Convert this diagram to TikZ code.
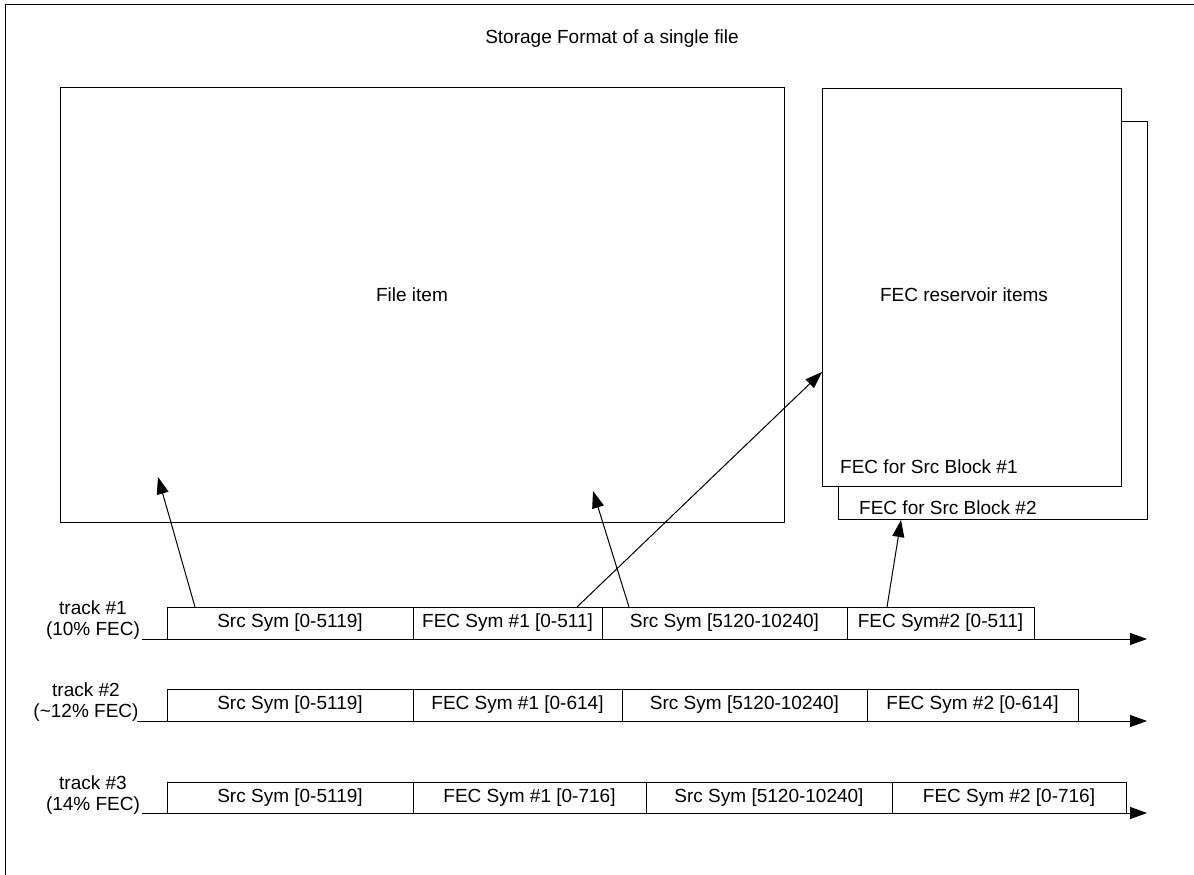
\documentclass[tikz,border=0pt]{standalone}
\usepackage{fontspec}
\setmainfont{Liberation Sans}
\usetikzlibrary{arrows.meta}
\begin{document}
\begin{tikzpicture}[x=1pt,y=-1pt,
  txt/.style={font=\fontsize{19}{20.5}\selectfont, inner sep=0pt},
  frame/.style={draw, line width=1pt},
  cell/.style={draw, line width=1pt, minimum height=32pt, inner sep=0pt, outer sep=0pt, anchor=north west, font=\fontsize{19}{20.5}\selectfont},
  lab/.style={font=\fontsize{19}{20.5}\selectfont, align=center, inner sep=0pt},
  ptr/.style={line width=1pt, -{Triangle[length=17pt,width=12pt]}},
  axis/.style={line width=1pt, -{Triangle[length=17pt,width=12pt]}}
]
\useasboundingbox (0,0) rectangle (1194,875);
% outer frame (only top and left edges visible)
\draw[line width=1pt] (5,875) -- (5,5) -- (1194,5);
\node[txt] (title) at (612,39) {Storage Format of a single file};

% file item
\node[frame, minimum width=724pt, minimum height=435pt, anchor=north west, inner sep=0pt] (file) at (60,87) {};
\node[txt] (filelab) at (412,295) {File item};

% FEC reservoir boxes
\node[frame, minimum width=309pt, minimum height=398pt, anchor=north west, inner sep=0pt] (res2) at (838,121) {};
\node[frame, fill=white, minimum width=299pt, minimum height=398pt, anchor=north west, inner sep=0pt] (res1) at (822,88) {};
\node[txt] (reslab) at (964,295) {FEC reservoir items};
\node[txt, anchor=west] (blk1) at (840,467) {FEC for Src Block \#1};
\node[txt, anchor=west] (blk2) at (859,508) {FEC for Src Block \#2};

% track 1
\node[lab] (l1) at (93,620) {track \#1\\(10\% FEC)};
\coordinate (a1s) at (142,639);
\coordinate (a1e) at (1147,639);
\draw[axis] (a1s) -- (a1e);
\node[cell, minimum width=246pt] (t1a) at (167,607) {Src Sym [0-5119]};
\node[cell, minimum width=189pt] (t1b) at (413,607) {FEC Sym \#1 [0-511]};
\node[cell, minimum width=245pt] (t1c) at (602,607) {Src Sym [5120-10240]};
\node[cell, minimum width=187pt] (t1d) at (847,607) {FEC Sym\#2 [0-511]};

% track 2
\node[lab] (l2) at (86,702) {track \#2\\(\textasciitilde12\% FEC)};
\coordinate (a2s) at (137,721);
\coordinate (a2e) at (1147,721);
\draw[axis] (a2s) -- (a2e);
\node[cell, minimum width=246pt] (t2a) at (167,689) {Src Sym [0-5119]};
\node[cell, minimum width=209pt] (t2b) at (413,689) {FEC Sym \#1 [0-614]};
\node[cell, minimum width=245pt] (t2c) at (622,689) {Src Sym [5120-10240]};
\node[cell, minimum width=211pt] (t2d) at (867,689) {FEC Sym \#2 [0-614]};

% track 3
\node[lab] (l3) at (93,795) {track \#3\\(14\% FEC)};
\coordinate (a3s) at (142,813);
\coordinate (a3e) at (1147,813);
\draw[axis] (a3s) -- (a3e);
\node[cell, minimum width=246pt, minimum height=31pt] (t3a) at (167,782) {Src Sym [0-5119]};
\node[cell, minimum width=233pt, minimum height=31pt] (t3b) at (413,782) {FEC Sym \#1 [0-716]};
\node[cell, minimum width=246pt, minimum height=31pt] (t3c) at (646,782) {Src Sym [5120-10240]};
\node[cell, minimum width=234pt, minimum height=31pt] (t3d) at (892,782) {FEC Sym \#2 [0-716]};

% pointers
\coordinate (p1) at (158,477);
\coordinate (p2) at (593,491);
\coordinate (p3) at (822,372);
\coordinate (p4) at (901,520);
\draw[ptr] (t1a.north west) ++(28,0) -- (p1);
\draw[ptr] (t1c.north west) ++(27,0) -- (p2);
\draw[ptr] (t1b.north west) ++(164,0) -- (p3);
\draw[ptr] (t1d.north west) ++(40,0) -- (p4);
\end{tikzpicture}
\end{document}
